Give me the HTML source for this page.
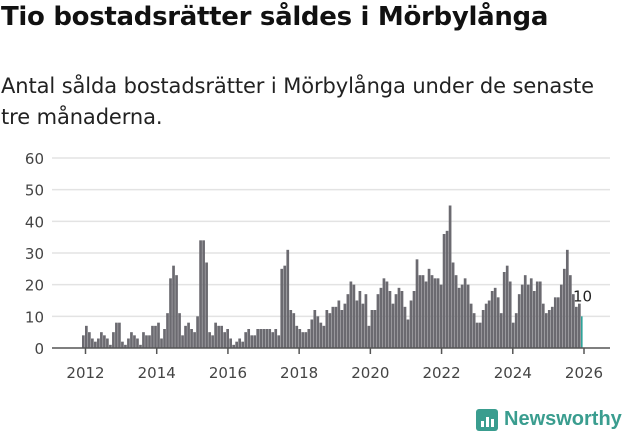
<!DOCTYPE html>
<html><head><meta charset="utf-8"><style>
body{margin:0;width:631px;height:439px;background:#fff;font-family:"DejaVu Sans","Liberation Sans",sans-serif;overflow:hidden;position:relative}
h1{position:absolute;left:1px;top:2px;margin:0;font-size:26px;font-weight:bold;color:#111;letter-spacing:-0.3px;white-space:nowrap}
p{position:absolute;left:1px;top:71px;margin:0;font-size:21px;line-height:31px;color:#222;width:612px;letter-spacing:-0.1px}
svg{position:absolute;left:0;top:0}
</style></head><body>
<h1>Tio bostadsrätter såldes i Mörbylånga</h1>
<p>Antal sålda bostadsrätter i Mörbylånga under de senaste tre månaderna.</p>
<svg id="c" width="631" height="439"></svg>
<script>
const values=[4,7,5,3,2,3,5,4,3,1,5,8,8,2,1,3,5,4,3,1,5,4,4,7,7,8,3,6,11,22,26,23,11,4,7,8,6,5,10,34,34,27,5,4,8,7,7,5,6,3,1,2,3,2,5,6,
4,4,6,6,6,6,6,5,6,4,25,26,31,12,11,7,6,5,5,6,9,12,10,8,7,12,11,13,13,15,12,14,17,21,20,15,18,14,17,7,12,12,17,19,22,21,18,14,17,19,18,13,9,15,18,28,23,
23,21,25,23,22,22,20,36,37,45,27,23,19,20,22,20,14,11,8,8,12,14,15,18,19,16,11,24,26,21,8,11,17,20,23,20,22,18,21,21,14,11,12,13,16,16,20,25,31,23,17,13,14,10];
const yTicks=[0,10,20,30,40,50,60];
const xYears=[2012,2014,2016,2018,2020,2022,2024,2026];
const NS="http://www.w3.org/2000/svg",svg=document.getElementById('c');
const y0=348,yTop=158;
function y(v){return y0-(v/60)*(y0-yTop);}
function xYear(yr){return 85.5+(yr-2012)*(584-85.5)/14;}
const n=values.length,bx0=82,bx1=581;
function xi(i){return bx0+i*(bx1-bx0)/(n-1);}
function el(t,a){const e=document.createElementNS(NS,t);for(const k in a)e.setAttribute(k,a[k]);svg.appendChild(e);return e;}
yTicks.forEach(t=>{
 if(t>0){const g=el('line',{x1:52,x2:610,y1:y(t),y2:y(t),stroke:'#e3e3e3','stroke-width':1.5});
 
 }
 const l=el('text',{x:44,y:y(t)+6,'text-anchor':'end','font-size':15,fill:'#444'});l.textContent=t;
 
 
});
values.forEach((v,i)=>{
 const last=i===n-1;
 const r=el('rect',{x:xi(i),y:y(v),width:last?1.6:2.7,height:y0-y(v),fill:last?'#2fa39a':'#6b6a70'});
 
 
});
const lab=el('text',{x:xi(n-1)-8,y:y(values[n-1])-15,'font-size':15,fill:'#222'});lab.textContent=values[n-1];


el('line',{x1:52,x2:610,y1:y0,y2:y0,stroke:'#555','stroke-width':1.5});
xYears.forEach(yr=>{
 el('line',{x1:xYear(yr),x2:xYear(yr),y1:y0,y2:y0+6,stroke:'#555','stroke-width':1.5});
 const t=el('text',{x:xYear(yr),y:378,'text-anchor':'middle','font-size':15,fill:'#444'});t.textContent=yr;
 
 
});
</script>
<div style="position:absolute;left:476px;top:408px;display:flex;align-items:center">
<div style="width:22px;height:22px;background:#3a9d8f;border-radius:3px;position:relative;margin-right:6px">
<div style="position:absolute;left:5px;bottom:4px;width:3px;height:6px;background:#fff"></div>
<div style="position:absolute;left:10px;bottom:4px;width:3px;height:10px;background:#fff"></div>
<div style="position:absolute;left:15px;bottom:4px;width:3px;height:8px;background:#fff"></div></div>
<span style="font-size:20px;font-weight:bold;color:#3a9d8f;font-family:'Liberation Sans',sans-serif">Newsworthy</span></div>
</body></html>
